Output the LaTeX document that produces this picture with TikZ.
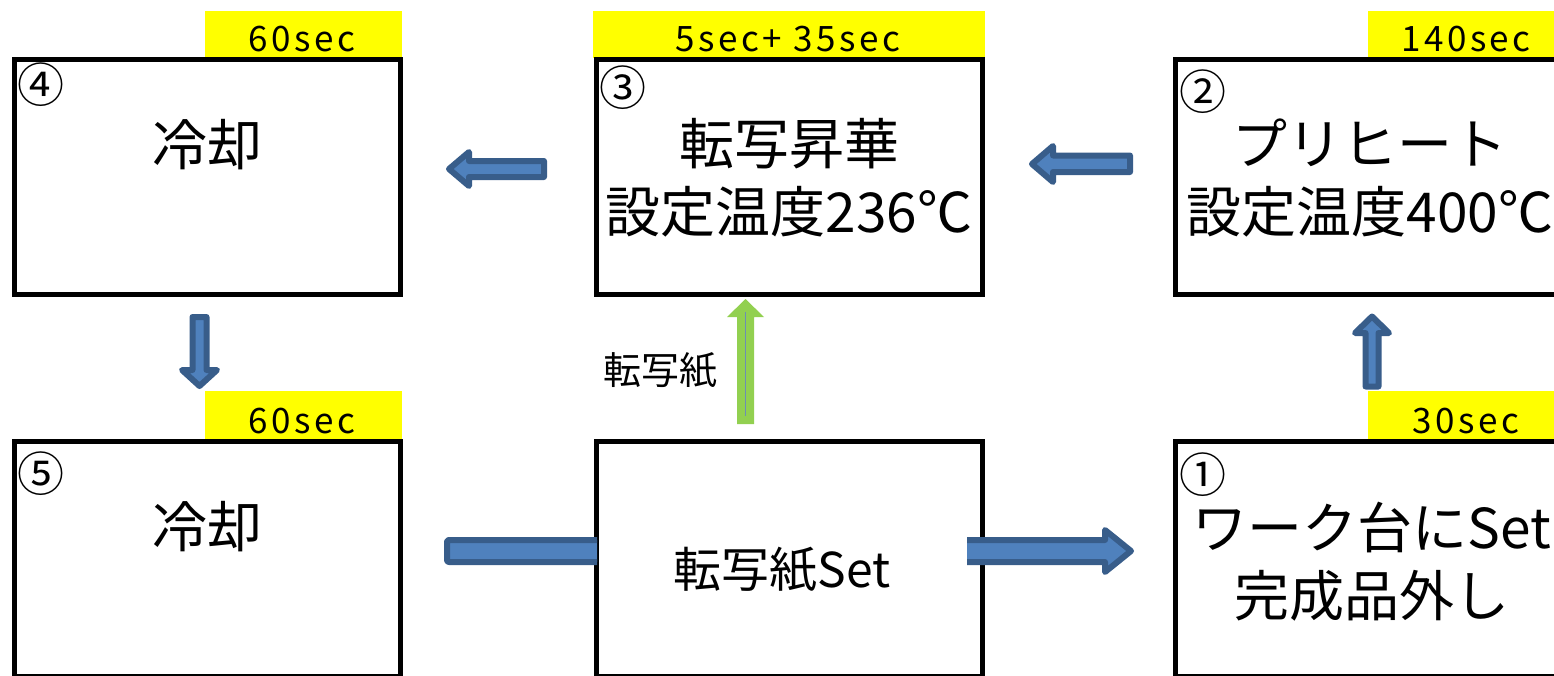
\documentclass[tikz,border=0pt]{standalone}
\usepackage{fontspec}
\setmainfont{Noto Sans CJK JP}
\newfontfamily\tagfont[LetterSpace=10]{Noto Sans CJK JP}
\definecolor{afill}{HTML}{4F81BD}
\definecolor{aline}{HTML}{385D8A}
\definecolor{gfill}{HTML}{92D050}
\definecolor{gline}{HTML}{6C8EB5}
\definecolor{tagyellow}{HTML}{FFFF00}
\begin{document}
\begin{tikzpicture}[x=1pt,y=-1pt,
  box/.style={draw=black, line width=5pt, fill=white, rectangle, inner sep=0pt,
              minimum width=386pt, minimum height=234.5pt},
  tagtext/.style={inner sep=0pt, font=\tagfont\fontsize{35}{35}\selectfont},
  big/.style={font=\fontsize{55}{68}\selectfont, align=center, inner sep=0pt},
  mid/.style={font=\fontsize{48}{48}\selectfont, inner sep=0pt},
  small/.style={font=\fontsize{38}{38}\selectfont, inner sep=0pt},
  num/.style={font=\fontsize{47}{47}\selectfont, inner sep=0pt},
  barrow/.style={fill=afill, draw=aline, line width=6pt, line join=round},
]
\useasboundingbox (0,0) rectangle (1554,675);
\clip (0,0) rectangle (1554,675);
\fill[white] (0,0) rectangle (1554,675);

% yellow time tags
\fill[tagyellow] (205,11) rectangle (402,58);
\fill[tagyellow] (593,11) rectangle (985,58);
\fill[tagyellow] (1368,11) rectangle (1560,58);
\fill[tagyellow] (205,391) rectangle (402,440);
\fill[tagyellow] (1368,391) rectangle (1560,440);

% boxes
\node[box] (b4) at (207,176.75) {};
\node[box] (b3) at (789,176.75) {};
\node[box] (b2) at (1368.5,176.75) {};
\node[box] (b5) at (207,558.75) {};
\node[box] (bm) at (789,558.75) {};
\node[box] (b1) at (1368.5,558.75) {};

% block arrows
\draw[barrow] (449,169) -- (469,152) -- (469,161) -- (544,161) -- (544,177) -- (469,177) -- (469,186) -- cycle;
\draw[barrow] (1032,164) -- (1053,146) -- (1053,155.5) -- (1130,155.5) -- (1130,172) -- (1053,172) -- (1053,182) -- cycle;
\draw[barrow] (199.5,386) -- (182,370) -- (192.5,370) -- (192.5,317) -- (206.5,317) -- (206.5,370) -- (217,370) -- cycle;
\draw[barrow] (1372,316.5) -- (1355,333) -- (1365.5,333) -- (1365.5,386.5) -- (1378.5,386.5) -- (1378.5,333) -- (1389,333) -- cycle;
\fill[gfill] (745.5,299) -- (764,317) -- (754,317) -- (754,424) -- (737,424) -- (737,317) -- (727,317) -- cycle;
\draw[gline, line width=1.5pt] (745.5,312) -- (745.5,416);
\begin{scope}
  \clip (430,520) rectangle (597,580);
  \draw[barrow, rounded corners=2pt] (447,540) rectangle (640,562);
\end{scope}
\begin{scope}
  \clip (967,500) rectangle (1200,600);
  \draw[barrow] (940,540) -- (1105,540) -- (1105,530) -- (1131,551) -- (1105,572) -- (1105,562) -- (940,562) -- cycle;
\end{scope}

% tag texts
\node[tagtext] (t4) at (302,39) {60sec};
\node[tagtext] (t3) at (788,39) {5sec+ 35sec};
\node[tagtext] (t2) at (1466,39) {140sec};
\node[tagtext] (t5) at (302,421) {60sec};
\node[tagtext] (t1) at (1466,421) {30sec};

% numbers
\node[num] (n4) at (41,85) {④};
\node[num] (n3) at (623,88) {③};
\node[num] (n2) at (1203,92) {②};
\node[num] (n5) at (41,474) {⑤};
\node[num] (n1) at (1203,475) {①};

% main texts
\node[big] (x4) at (207,145) {冷却};
\node[big] (x3) at (789,178) {転写昇華\\設定温度236℃};
\node[big] (x2) at (1370,178) {プリヒート\\設定温度400℃};
\node[big] (x5) at (207,527) {冷却};
\node[mid] (xm) at (782,570) {転写紙Set};
\node[big] (x1) at (1372,562) {ワーク台にSet\\完成品外し};
\node[small] (lbl) at (660,370) {転写紙};
\end{tikzpicture}
\end{document}
